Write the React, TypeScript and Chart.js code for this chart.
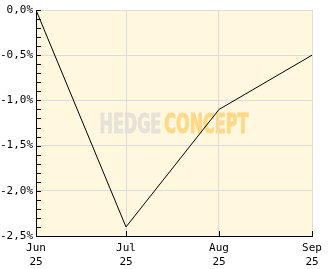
import React, { useEffect, useRef } from "react";
import { Chart, registerables } from "chart.js";

Chart.register(...registerables);

const dates = ["2025-06-01", "2025-07-01", "2025-08-01", "2025-09-01"];
const values = [0.0, -2.4, -1.1, -0.5];
const monthLabels = ["Jun", "Jul", "Aug", "Sep"];
const yearLabels = ["25", "25", "25", "25"];
const yTicks = [0, -0.5, -1.0, -1.5, -2.0, -2.5];

const DAY = 86400000;
const t0 = Date.parse(dates[0]);
const dayOffsets = dates.map((d) => Math.round((Date.parse(d) - t0) / DAY));

const fontFamily = "'DejaVu Sans Mono', monospace";

const bgPlugin = {
  id: "bgWatermark",
  beforeDraw(chart: any) {
    const { ctx, chartArea } = chart;
    const { left, top, right, bottom } = chartArea;
    ctx.save();
    ctx.fillStyle = "#FFF7DE";
    ctx.fillRect(left, top, right - left, bottom - top);
    // watermark
    ctx.font = "bold 24px 'DejaVu Sans', sans-serif";
    ctx.textBaseline = "alphabetic";
    const w1 = ctx.measureText("HEDGE").width;
    const w2 = ctx.measureText("CONCEPT").width;
    const gap = 3;
    const target = 149;
    const sx = (target - gap) / (w1 + w2);
    const cx = (left + right) / 2;
    const cy = (top + bottom) / 2;
    const x0 = cx - target / 2;
    const baseline = cy + 10;
    ctx.translate(x0, baseline);
    ctx.scale(sx, 1.08);
    ctx.lineWidth = 1;
    ctx.lineJoin = "round";
    ctx.fillStyle = "#E6E2D8";
    ctx.strokeStyle = "#E6E2D8";
    ctx.fillText("HEDGE", 0, 0);
    ctx.strokeText("HEDGE", 0, 0);
    ctx.fillStyle = "#FFD986";
    ctx.strokeStyle = "#FFD986";
    ctx.fillText("CONCEPT", w1 + gap / sx, 0);
    ctx.strokeText("CONCEPT", w1 + gap / sx, 0);
    ctx.restore();
  },
  afterDraw(chart: any) {
    const { ctx, chartArea, scales } = chart;
    const y = scales.y;
    const x = scales.x;
    ctx.save();
    ctx.strokeStyle = "#000";
    ctx.lineWidth = 1;
    ctx.beginPath();
    for (let i = 0; i <= 25; i++) {
      const v = -i / 10;
      const py = Math.round(y.getPixelForValue(v)) + 0.5;
      ctx.moveTo(chartArea.left, py);
      ctx.lineTo(chartArea.left + 5, py);
    }
    for (const d of dayOffsets) {
      const px = Math.round(x.getPixelForValue(d)) + 0.5;
      ctx.moveTo(px, chartArea.bottom);
      ctx.lineTo(px, chartArea.bottom - 5);
    }
    ctx.stroke();
    ctx.restore();
  },
};

export default function App() {
  const ref = useRef<HTMLCanvasElement | null>(null);
  useEffect(() => {
    document.body.style.margin = "0";
    const canvas = ref.current!;
    const chart = new Chart(canvas, {
      type: "line",
      data: {
        datasets: [
          {
            data: dayOffsets.map((d, i) => ({ x: d, y: values[i] })),
            borderColor: "#000",
            borderWidth: 1,
            pointRadius: 0,
            tension: 0,
            fill: false,
          },
        ],
      },
      options: {
        animation: false,
        responsive: false,
        events: [],
        layout: { padding: { top: 10, right: 20, left: 0, bottom: 0 } },
        plugins: { legend: { display: false }, tooltip: { enabled: false } },
        scales: {
          x: {
            type: "linear",
            min: dayOffsets[0],
            max: dayOffsets[dayOffsets.length - 1],
            afterBuildTicks: (s: any) => {
              s.ticks = dayOffsets.map((v) => ({ value: v }));
            },
            afterFit: (s: any) => {
              s.height = 33;
            },
            ticks: {
              autoSkip: false,
              maxRotation: 0,
              padding: 5,
              color: "#000",
              font: { family: fontFamily, size: 11, lineHeight: "14px" as any },
              callback: (v: any) => {
                const i = dayOffsets.indexOf(Number(v));
                return i >= 0 ? [monthLabels[i], yearLabels[i]] : "";
              },
            },
            grid: { color: "#DCDCDC", lineWidth: 1, drawTicks: false },
            border: { color: "#000", width: 1 },
          },
          y: {
            type: "linear",
            min: yTicks[yTicks.length - 1],
            max: yTicks[0],
            afterBuildTicks: (s: any) => {
              s.ticks = yTicks.map((v) => ({ value: v }));
            },
            afterFit: (s: any) => {
              s.width = 36;
            },
            ticks: {
              padding: 3,
              color: "#000",
              font: { family: fontFamily, size: 11 },
              callback: (v: any) => Number(v).toFixed(1).replace(".", ",") + "%",
            },
            grid: { color: "#DCDCDC", lineWidth: 1, drawTicks: false },
            border: { color: "#000", width: 1 },
          },
        },
      },
      plugins: [bgPlugin],
    });
    return () => chart.destroy();
  }, []);
  return (
    <div style={{ position: "fixed", left: 0, top: 0, width: 332, height: 269, background: "#fff" }}>
      <canvas ref={ref} width={332} height={269} style={{ display: "block" }} />
    </div>
  );
}
